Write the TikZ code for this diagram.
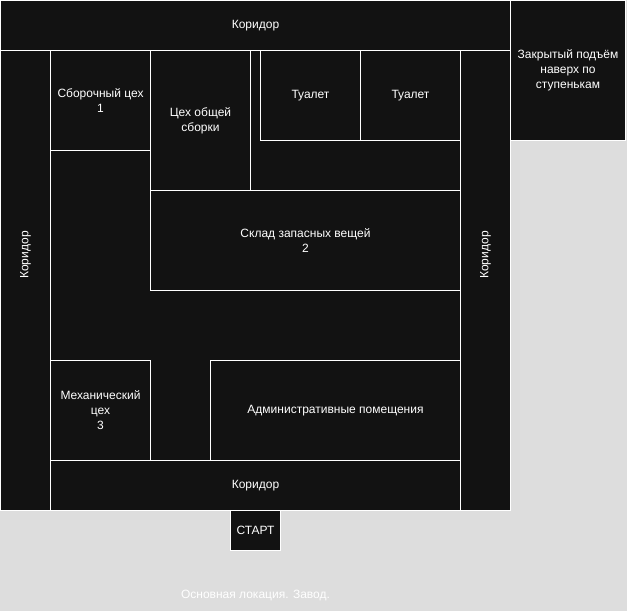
\documentclass[tikz,border=0pt]{standalone}
\usepackage{fontspec}
\setmainfont{Liberation Sans}
\definecolor{roomfill}{HTML}{121212}
\definecolor{pagefill}{HTML}{DDDDDD}
\tikzset{
  room/.style={draw=white,fill=roomfill,line width=0.75pt,text=white,align=center,font=\fontsize{9}{11.25}\selectfont,anchor=north west,inner sep=0pt,outer sep=0pt},
  caption/.style={text=white,font=\fontsize{9}{11.25}\selectfont,inner sep=0pt}
}
\begin{document}
\begin{tikzpicture}[x=0.75pt,y=0.75pt,yscale=-1,xscale=1]
\useasboundingbox (0,0) rectangle (627,611);
\fill[pagefill] (0,0) rectangle (627,611);

% outer blocks
\node[room,minimum width=382.5pt,minimum height=37.5pt] (corridortop) at (0.5,0.5) {Коридор};
\node[room,minimum width=86.25pt,minimum height=105pt] (stairs) at (510.5,0.5) {Закрытый подъём\\наверх по\\ступенькам};
\node[room,minimum width=37.5pt,minimum height=345pt] (corridorleft) at (0.5,50.5) {};
\node[room,minimum width=37.5pt,minimum height=345pt] (corridorright) at (460.5,50.5) {};
\node[room,minimum width=307.5pt,minimum height=37.5pt] (corridorbottom) at (50.5,460.5) {Коридор};
\node[room,minimum width=307.5pt,minimum height=307.5pt] (hall) at (50.5,50.5) {};
\node[room,minimum width=37.5pt,minimum height=30pt] (start) at (230.5,510.5) {СТАРТ};

% rooms
\node[room,minimum width=75pt,minimum height=75pt] (assembly) at (50.5,50.5) {Сборочный цех\\1};
\node[room,minimum width=75pt,minimum height=105pt] (general) at (150.5,50.5) {Цех общей\\сборки};
\node[room,minimum width=75pt,minimum height=67.5pt] (toiletone) at (260.5,50.5) {Туалет};
\node[room,minimum width=75pt,minimum height=67.5pt] (toilettwo) at (360.5,50.5) {Туалет};
\node[room,minimum width=232.5pt,minimum height=75pt] (store) at (150.5,190.5) {Склад запасных вещей\\2};
\node[room,minimum width=75pt,minimum height=75pt] (mech) at (50.5,360.5) {Механический\\цех\\3};
\node[room,minimum width=187.5pt,minimum height=75pt] (admin) at (210.5,360.5) {Административные помещения};

% rotated labels
\node[caption,rotate=90] (labelleft) at (25.5,255) {Коридор};
\node[caption,rotate=90] (labelright) at (485.5,255) {Коридор};
\node[caption] (title) at (255.5,595) {Основная локация. Завод.};
\end{tikzpicture}
\end{document}
